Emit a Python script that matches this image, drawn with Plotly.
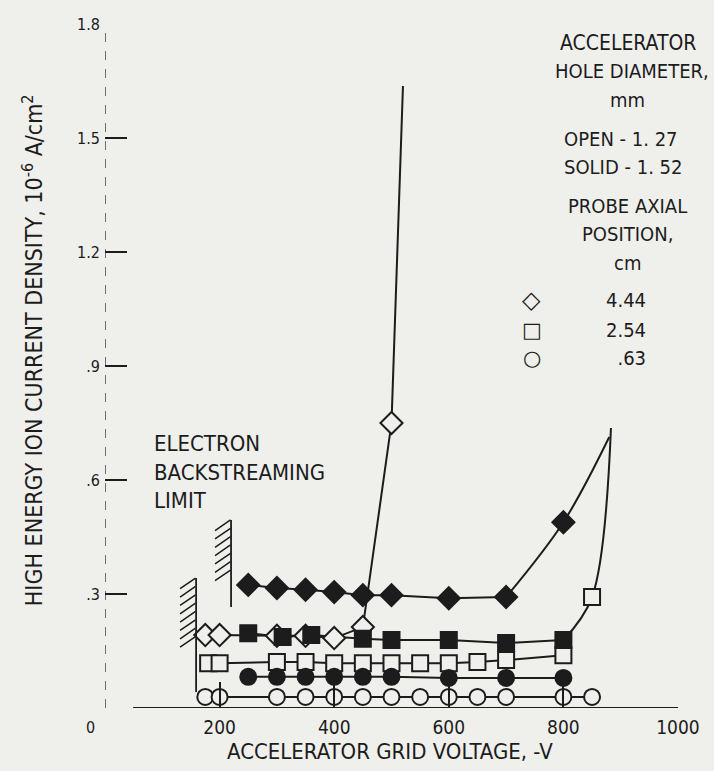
import plotly.graph_objects as go

# ---------------- data ----------------
# Solid diamonds: hole 1.52 mm, probe 4.44 cm
sd_x = [250, 300, 350, 400, 450, 500, 600, 700, 800]
sd_y = [0.324, 0.316, 0.311, 0.305, 0.297, 0.297, 0.289, 0.292, 0.489]
sd_ext_x = [880]
sd_ext_y = [0.713]

# Open diamonds: hole 1.27 mm, probe 4.44 cm
od_x = [175, 200, 300, 350, 400, 450, 500]
od_y = [0.192, 0.192, 0.190, 0.190, 0.184, 0.213, 0.750]
od_ext_x = [520]
od_ext_y = [1.637]

# Solid squares: hole 1.52 mm, probe 2.54 cm
ss_x = [250, 310, 360, 450, 500, 600, 700, 800]
ss_y = [0.197, 0.187, 0.192, 0.182, 0.179, 0.179, 0.171, 0.179]
ss_ext_x = [850, 883]
ss_ext_y = [0.292, 0.737]

# Open squares: hole 1.27 mm, probe 2.54 cm
os_x = [180, 200, 300, 350, 400, 450, 500, 550, 600, 650, 700, 800]
os_y = [0.118, 0.118, 0.121, 0.121, 0.118, 0.118, 0.118, 0.118, 0.118, 0.121, 0.126, 0.139]
os_extra_x = [850]
os_extra_y = [0.292]

# Solid circles: hole 1.52 mm, probe .63 cm
sc_x = [250, 300, 350, 400, 450, 500, 600, 700, 800]
sc_y = [0.082, 0.082, 0.082, 0.082, 0.082, 0.082, 0.079, 0.079, 0.079]

# Open circles: hole 1.27 mm, probe .63 cm
oc_x = [175, 200, 300, 350, 400, 450, 500, 550, 600, 650, 700, 800, 850]
oc_y = [0.029] * 13

# Electron backstreaming limit markers
limit_x = [159, 220]
limit_ytop = [0.342, 0.495]
limit_ybot = [0.042, 0.266]
limit_hatch_bot = [0.180, 0.345]

x_ticks = [200, 400, 600, 800, 1000]
y_ticks = [0.3, 0.6, 0.9, 1.2, 1.5, 1.8]
y_ticklabels = [".3", ".6", ".9", "1.2", "1.5", "1.8"]

legend_rows = ["4.44", "2.54", "\u2007.63"]
legend_syms = ["\u25C7", "\u25A1", "\u25CB"]
legend_sym_sizes = [24, 21, 21]

# ---------------- styling ----------------
BG = "#efefec"
INK = "#1c1c1c"
FONT = "Liberation Sans Narrow, DejaVu Sans Condensed, Arial Narrow, sans-serif"
LW = 2

fig = go.Figure()

def line(x, y, shape="linear", smoothing=1.0):
    fig.add_trace(go.Scatter(x=x, y=y, mode="lines",
                             line=dict(color=INK, width=LW, shape=shape, smoothing=smoothing),
                             hoverinfo="skip", showlegend=False))

def marks(x, y, symbol, size, filled):
    fig.add_trace(go.Scatter(
        x=x, y=y, mode="markers", showlegend=False, cliponaxis=False, hoverinfo="skip",
        marker=dict(symbol=symbol, size=size, color=INK if filled else BG,
                    line=dict(color=INK, width=2))))

# lines first: flat parts straight, rising ends curved
line(sd_x[:-1], sd_y[:-1])
line(sd_x[-2:] + sd_ext_x, sd_y[-2:] + sd_ext_y, "spline", 1.0)
line(od_x + od_ext_x, od_y + od_ext_y)
line(ss_x, ss_y)
line(ss_x[-1:] + ss_ext_x, ss_y[-1:] + ss_ext_y, "spline", 1.0)
line(os_x, os_y)
line(sc_x, sc_y)
line(oc_x, oc_y)

# markers on top
marks(os_x + os_extra_x, os_y + os_extra_y, "square", 16, False)
marks(oc_x, oc_y, "circle", 16, False)
marks(sc_x, sc_y, "circle", 16, True)
marks(od_x, od_y, "diamond", 17, False)
marks(ss_x, ss_y, "square", 16, True)
marks(sd_x, sd_y, "diamond", 17, True)

shapes = []
# axes
shapes.append(dict(type="line", xref="x", yref="y", x0=0, x1=0, y0=0, y1=1.8,
                   line=dict(color="#444", width=1.5, dash="dash"), layer="below"))
shapes.append(dict(type="line", xref="x", yref="y", x0=49, x1=1000, y0=0, y1=0,
                   line=dict(color=INK, width=1.8), layer="below"))
# backstreaming limits with hatching
for lx, yt, yb, hb in zip(limit_x, limit_ytop, limit_ybot, limit_hatch_bot):
    shapes.append(dict(type="line", xref="x", yref="y", x0=lx, x1=lx, y0=yb, y1=yt,
                       line=dict(color=INK, width=1.8)))
    yy = yt
    while yy > hb:
        shapes.append(dict(type="line", xref="x", yref="y", x0=lx - 28, x1=lx - 1,
                           y0=yy - 0.028, y1=yy, line=dict(color=INK, width=1.5)))
        yy -= 0.022

ann = []
def txt(t, x, y, size=20, xa="center", ya="middle", angle=0, align="center", family=FONT):
    ann.append(dict(text=t, x=x, y=y, xref="paper", yref="paper", showarrow=False,
                    xanchor=xa, yanchor=ya, textangle=angle, align=align,
                    font=dict(family=family, size=size, color=INK)))

txt("ELECTRON<br>BACKSTREAMING<br>LIMIT", 0.082, 0.345, size=22, xa="left", align="left")
txt("ACCELERATOR", 0.9127, 0.972, size=21)
txt("HOLE DIAMETER,", 0.919, 0.931, size=20)
txt("mm", 0.9127, 0.889, size=20)
txt("OPEN - 1. 27", 0.7976, 0.832, size=20, xa="left")
txt("SOLID - 1. 52", 0.7976, 0.791, size=20, xa="left")
txt("PROBE AXIAL", 0.9127, 0.734, size=20)
txt("POSITION,", 0.9127, 0.693, size=20)
txt("cm", 0.9127, 0.651, size=20)
for s, v, yy, sz in zip(legend_syms, legend_rows, [0.596, 0.553, 0.512], legend_sym_sizes):
    txt(s, 0.745, yy, size=sz, family="DejaVu Sans")
    txt(v, 0.9476, yy, size=20, xa="right")
txt("ACCELERATOR GRID VOLTAGE, -V", 0.497, -0.064, size=22)
txt("HIGH ENERGY ION CURRENT DENSITY, 10<sup>-6</sup> A/cm<sup>2</sup>", -0.1257, 0.523,
    size=23, angle=-90)
txt("0", -0.026, -0.028, size=16)

fig.update_layout(
    width=714, height=771,
    margin=dict(l=105, r=36, t=24, b=63),
    paper_bgcolor=BG, plot_bgcolor=BG,
    shapes=shapes, annotations=ann,
    font=dict(family=FONT, color=INK),
    hovermode=False,
    xaxis=dict(range=[0, 1000], tickvals=x_ticks, ticks="inside", ticklen=26, tickwidth=1.5,
               tickcolor=INK, showline=False, showgrid=False, zeroline=False,
               tickfont=dict(family=FONT, size=19, color=INK), ticklabelstandoff=6),
    yaxis=dict(range=[0, 1.8], tickvals=y_ticks, ticktext=y_ticklabels, ticks="inside",
               ticklen=22, tickwidth=1.5, tickcolor=INK, showline=False, showgrid=False,
               zeroline=False, tickfont=dict(family=FONT, size=16, color=INK),
               ticklabelstandoff=4),
)

fig.write_html("out.html", config={"displayModeBar": False},
               post_script="document.body.style.margin='0';document.body.style.background='#efefec';")
